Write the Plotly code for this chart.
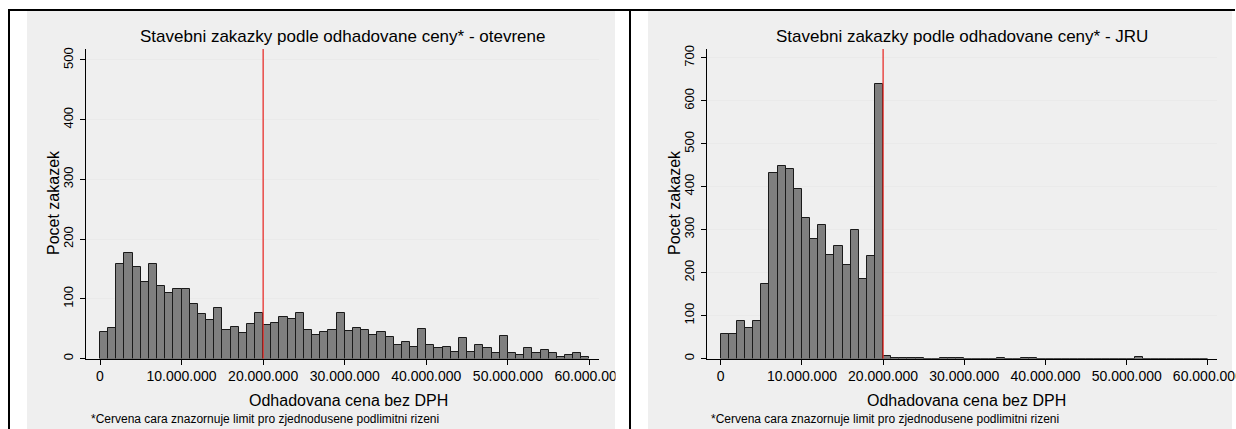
import plotly.graph_objects as go

W, H = 1236, 429

# Histogram bins: 1 mil. CZK wide, 0 .. 60 mil.
BIN_WIDTH = 1_000_000
bin_starts = [i * BIN_WIDTH for i in range(60)]

# Open procedures (otevrene) - counts per bin
open_counts = [44, 51, 158, 177, 153, 128, 159, 122, 109, 116,
               116, 92, 74, 64, 85, 48, 53, 43, 58, 77,
               56, 59, 69, 67, 76, 48, 40, 44, 48, 76,
               46, 51, 47, 40, 44, 36, 23, 27, 20, 49,
               23, 18, 20, 11, 34, 11, 23, 18, 10, 38,
               10, 6, 18, 10, 15, 10, 3, 6, 10, 3]

# Simplified below-threshold procedures (JRU) - counts per bin
jru_counts = [58, 58, 88, 72, 88, 173, 433, 449, 441, 395,
              328, 279, 310, 241, 263, 218, 298, 186, 238, 639,
              5, 2, 2, 2, 2, 0, 0, 2, 2, 2,
              0, 0, 0, 0, 2, 0, 0, 2, 2, 0,
              0, 0, 0, 0, 0, 0, 0, 0, 0, 0,
              0, 3, 0, 0, 0, 0, 0, 0, 0, 0]

LIMIT = 20_000_000

x_tick_vals = [0, 10_000_000, 20_000_000, 30_000_000, 40_000_000, 50_000_000, 60_000_000]
x_tick_text = ["0", "10.000.000", "20.000.000", "30.000.000", "40.000.000", "50.000.000", "60.000.000"]
y_ticks_open = [0, 100, 200, 300, 400, 500]
y_ticks_jru = [0, 100, 200, 300, 400, 500, 600, 700]

titles = ["Stavebni zakazky podle odhadovane ceny* - otevrene",
          "Stavebni zakazky podle odhadovane ceny* - JRU"]
x_title = "Odhadovana cena bez DPH"
y_title = "Pocet zakazek"
footnote = "*Cervena cara znazornuje limit pro zjednodusene podlimitni rizeni"

FONT = "Liberation Sans, Arial, sans-serif"
BAR_FILL = "#7f7f7f"
BAR_EDGE = "#1a1a1a"
GRID = "#eaeaea"
PANEL = "#efefef"
RED = "#e8302c"


def px(x):
    return x / W


def py(y):
    return 1 - y / H


bin_centers = [b + BIN_WIDTH / 2 for b in bin_starts]

fig = go.Figure()
fig.add_trace(go.Bar(x=bin_centers, y=open_counts, width=BIN_WIDTH,
                     marker=dict(color=BAR_FILL, line=dict(color=BAR_EDGE, width=1)),
                     xaxis="x", yaxis="y", showlegend=False))
fig.add_trace(go.Bar(x=bin_centers, y=jru_counts, width=BIN_WIDTH,
                     marker=dict(color=BAR_FILL, line=dict(color=BAR_EDGE, width=1)),
                     xaxis="x2", yaxis="y2", showlegend=False))

common_x = dict(showline=True, linecolor="black", linewidth=1, ticks="outside",
                ticklen=5, tickcolor="black", tickwidth=1, showgrid=False, zeroline=False,
                tickvals=x_tick_vals, ticktext=x_tick_text, automargin=False,
                ticklabeloverflow="allow",
                tickfont=dict(family=FONT, size=14, color="black"))
common_y = dict(showline=True, linecolor="black", linewidth=1, ticks="outside",
                ticklen=5, tickcolor="black", tickwidth=1, showgrid=True, gridcolor=GRID,
                gridwidth=1, zeroline=False, tickangle=-90, automargin=False,
                ticklabelstandoff=2,
                tickfont=dict(family=FONT, size=13, color="black"))

fig.update_layout(
    width=W, height=H, autosize=False, margin=dict(l=0, r=0, t=0, b=0, pad=0),
    paper_bgcolor="white", plot_bgcolor="white", bargap=0,
    xaxis=dict(domain=[px(86), px(599)], range=[-1.716e6, 61.17e6], anchor="y", **common_x),
    yaxis=dict(domain=[py(358.5), py(49)], range=[0, 518.4], anchor="x",
               tickvals=y_ticks_open, **common_y),
    xaxis2=dict(domain=[px(707), px(1216.5)], range=[-1.69e6, 61.06e6], anchor="y2", **common_x),
    yaxis2=dict(domain=[py(358.5), py(49)], range=[0, 720.5], anchor="x2",
                tickvals=y_ticks_jru, **common_y),
)

shapes = [
    # grey panel backgrounds
    dict(type="rect", xref="paper", yref="paper", x0=px(27), x1=px(615), y0=0, y1=py(11),
         fillcolor=PANEL, line=dict(width=0), layer="below"),
    dict(type="rect", xref="paper", yref="paper", x0=px(648), x1=px(1232), y0=0, y1=py(11),
         fillcolor=PANEL, line=dict(width=0), layer="below"),
    # white gap between panels
    dict(type="rect", xref="paper", yref="paper", x0=px(615.5), x1=px(647.5), y0=0, y1=py(11),
         fillcolor="white", line=dict(width=0), layer="above"),
    # black frame lines
    dict(type="line", xref="paper", yref="paper", x0=px(8), x1=px(1235), y0=py(10), y1=py(10),
         line=dict(color="black", width=2), layer="above"),
    dict(type="line", xref="paper", yref="paper", x0=px(9), x1=px(9), y0=0, y1=py(10),
         line=dict(color="black", width=2), layer="above"),
    dict(type="line", xref="paper", yref="paper", x0=px(630), x1=px(630), y0=0, y1=py(10),
         line=dict(color="black", width=2), layer="above"),
    # limit lines
    dict(type="line", xref="x", yref="y domain", x0=LIMIT, x1=LIMIT, y0=0, y1=1,
         line=dict(color=RED, width=1.3), layer="above"),
    dict(type="line", xref="x2", yref="y2 domain", x0=LIMIT, x1=LIMIT, y0=0, y1=1,
         line=dict(color=RED, width=1.3), layer="above"),
]
fig.update_layout(shapes=shapes)

annotations = []
for title, cx, xt, yt, fx in [(titles[0], 342.5, 348, 53, 89),
                              (titles[1], 961.5, 966, 674, 709)]:
    annotations.append(dict(text=title, xref="paper", yref="paper", x=px(cx), y=py(36),
                            xanchor="center", yanchor="middle", showarrow=False,
                            font=dict(family=FONT, size=17, color="black")))
    annotations.append(dict(text=x_title, xref="paper", yref="paper", x=px(xt), y=py(400),
                            xanchor="center", yanchor="middle", showarrow=False,
                            font=dict(family=FONT, size=16, color="black")))
    annotations.append(dict(text=y_title, xref="paper", yref="paper", x=px(yt), y=py(203),
                            xanchor="center", yanchor="middle", showarrow=False, textangle=-90,
                            font=dict(family=FONT, size=16, color="black")))
    annotations.append(dict(text=footnote, xref="paper", yref="paper", x=px(fx), y=py(419),
                            xanchor="left", yanchor="middle", showarrow=False,
                            font=dict(family=FONT, size=12, color="black")))
fig.update_layout(annotations=annotations)

fig.write_html("out.html")
